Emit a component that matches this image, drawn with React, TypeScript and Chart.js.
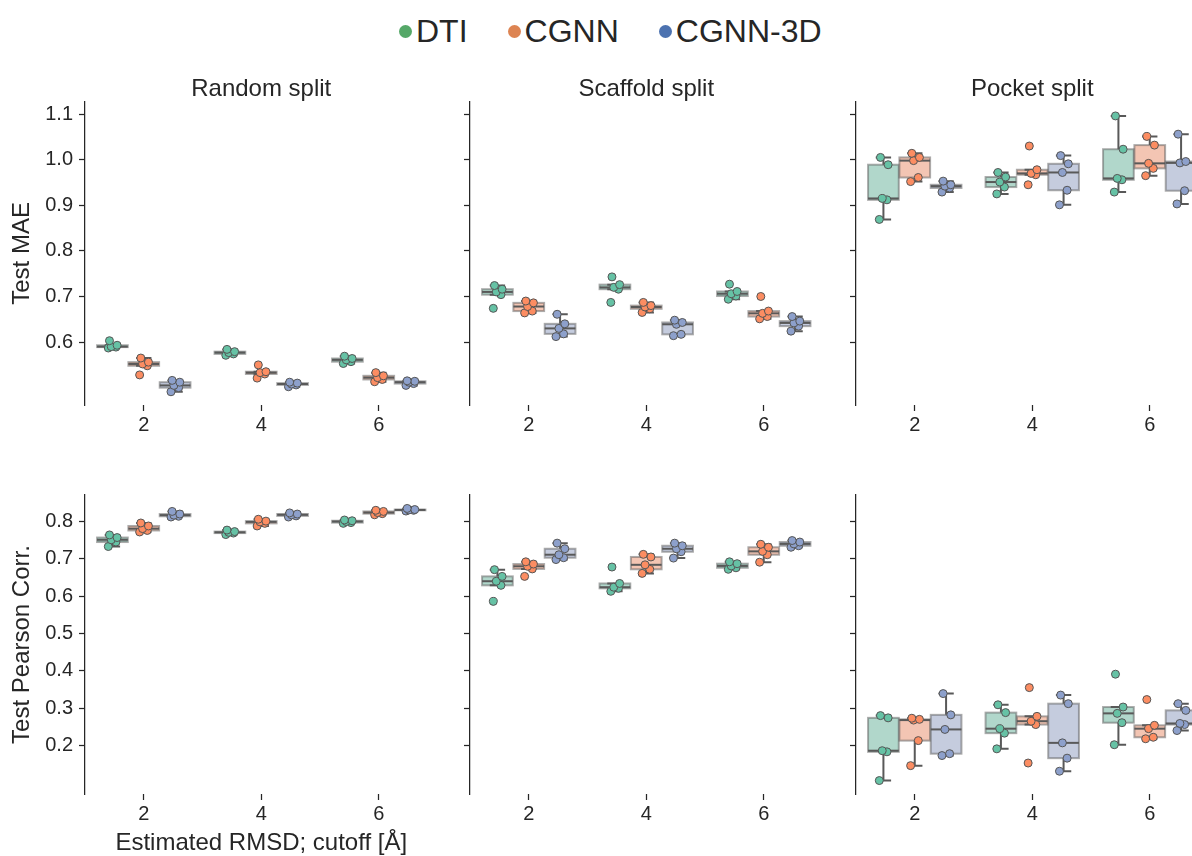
import React, { useEffect, useRef } from 'react';
import { Chart, registerables } from 'chart.js';

Chart.register(...registerables);

// ---------- categories / labels ----------
const CUTOFFS = [2, 4, 6];
const MODELS = ['DTI', 'CGNN', 'CGNN-3D'];
const SPLITS = ['Random split', 'Scaffold split', 'Pocket split'];
const METRICS = ['Test MAE', 'Test Pearson Corr.'];
const X_LABEL = 'Estimated RMSD; cutoff [Å]';
const MAE_TICKS = [0.6, 0.7, 0.8, 0.9, 1.0, 1.1];
const CORR_TICKS = [0.2, 0.3, 0.4, 0.5, 0.6, 0.7, 0.8];

// ---------- Test MAE (per cutoff 2, 4, 6; five runs each) ----------
const RANDOM_MAE_DTI = [[0.587, 0.589, 0.590, 0.593, 0.603], [0.571, 0.574, 0.577, 0.579, 0.584], [0.553, 0.557, 0.561, 0.564, 0.569]];
const RANDOM_MAE_CGNN = [[0.528, 0.548, 0.552, 0.556, 0.565], [0.521, 0.530, 0.533, 0.535, 0.550], [0.513, 0.518, 0.522, 0.526, 0.533]];
const RANDOM_MAE_CGNN3D = [[0.491, 0.500, 0.505, 0.512, 0.516], [0.502, 0.506, 0.508, 0.510, 0.512], [0.505, 0.509, 0.512, 0.514, 0.515]];

const SCAFFOLD_MAE_DTI = [[0.674, 0.704, 0.710, 0.716, 0.724], [0.687, 0.716, 0.720, 0.726, 0.743], [0.694, 0.701, 0.706, 0.711, 0.727]];
const SCAFFOLD_MAE_CGNN = [[0.664, 0.668, 0.678, 0.686, 0.690], [0.665, 0.673, 0.677, 0.680, 0.687], [0.651, 0.656, 0.663, 0.668, 0.700]];
const SCAFFOLD_MAE_CGNN3D = [[0.612, 0.618, 0.630, 0.640, 0.661], [0.614, 0.617, 0.639, 0.643, 0.648], [0.624, 0.635, 0.642, 0.646, 0.656]];

const POCKET_MAE_DTI = [[0.869, 0.912, 0.915, 0.989, 1.005], [0.925, 0.940, 0.951, 0.962, 0.972], [0.929, 0.956, 0.959, 1.023, 1.096]];
const POCKET_MAE_CGNN = [[0.952, 0.961, 0.998, 1.005, 1.014], [0.945, 0.967, 0.970, 0.978, 1.030], [0.965, 0.981, 0.992, 1.032, 1.051]];
const POCKET_MAE_CGNN3D = [[0.929, 0.938, 0.942, 0.945, 0.953], [0.901, 0.933, 0.972, 0.991, 1.009], [0.903, 0.932, 0.993, 0.996, 1.056]];

// ---------- Test Pearson Corr. ----------
const RANDOM_CORR_DTI = [[0.733, 0.745, 0.751, 0.757, 0.764], [0.765, 0.769, 0.771, 0.773, 0.777], [0.795, 0.797, 0.800, 0.802, 0.804]];
const RANDOM_CORR_CGNN = [[0.772, 0.776, 0.781, 0.788, 0.796], [0.788, 0.795, 0.799, 0.801, 0.806], [0.818, 0.821, 0.824, 0.827, 0.830]];
const RANDOM_CORR_CGNN3D = [[0.812, 0.814, 0.817, 0.820, 0.827], [0.812, 0.815, 0.818, 0.820, 0.823], [0.828, 0.830, 0.831, 0.832, 0.835]];

const SCAFFOLD_CORR_DTI = [[0.586, 0.629, 0.640, 0.653, 0.671], [0.613, 0.621, 0.624, 0.634, 0.678], [0.672, 0.676, 0.681, 0.687, 0.692]];
const SCAFFOLD_CORR_CGNN = [[0.653, 0.673, 0.680, 0.686, 0.692], [0.661, 0.672, 0.684, 0.705, 0.712], [0.691, 0.711, 0.720, 0.731, 0.739]];
const SCAFFOLD_CORR_CGNN3D = [[0.698, 0.703, 0.711, 0.727, 0.742], [0.702, 0.719, 0.727, 0.735, 0.742], [0.731, 0.735, 0.740, 0.745, 0.749]];

const POCKET_CORR_DTI = [[0.106, 0.183, 0.186, 0.274, 0.280], [0.191, 0.233, 0.245, 0.288, 0.309], [0.202, 0.261, 0.286, 0.303, 0.391]];
const POCKET_CORR_CGNN = [[0.146, 0.213, 0.268, 0.270, 0.273], [0.153, 0.256, 0.265, 0.278, 0.355], [0.218, 0.222, 0.245, 0.254, 0.323]];
const POCKET_CORR_CGNN3D = [[0.173, 0.178, 0.243, 0.282, 0.339], [0.131, 0.166, 0.207, 0.312, 0.335], [0.240, 0.256, 0.259, 0.294, 0.312]];

const PANEL_DATA = [
  [
    [RANDOM_MAE_DTI, RANDOM_MAE_CGNN, RANDOM_MAE_CGNN3D],
    [SCAFFOLD_MAE_DTI, SCAFFOLD_MAE_CGNN, SCAFFOLD_MAE_CGNN3D],
    [POCKET_MAE_DTI, POCKET_MAE_CGNN, POCKET_MAE_CGNN3D],
  ],
  [
    [RANDOM_CORR_DTI, RANDOM_CORR_CGNN, RANDOM_CORR_CGNN3D],
    [SCAFFOLD_CORR_DTI, SCAFFOLD_CORR_CGNN, SCAFFOLD_CORR_CGNN3D],
    [POCKET_CORR_DTI, POCKET_CORR_CGNN, POCKET_CORR_CGNN3D],
  ],
];
const Y_RANGES = [[0.462, 1.127], [0.07, 0.871]];
const Y_TICKS = [MAE_TICKS, CORR_TICKS];

// ---------- styles ----------
const FONT = '"Liberation Sans", Arial, Helvetica, sans-serif';
const TEXT = '#262626';
const POINT_COLORS = ['#66c2a5', '#fc8d62', '#8da0cb'];
const BOX_COLORS = ['rgba(113,182,161,0.55)', 'rgba(233,150,117,0.55)', 'rgba(149,163,195,0.55)'];
const LEGEND_COLORS = ['#55a868', '#dd8452', '#4c72b0'];
const LINE_COLOR = '#595959';
const BOX_EDGE = 'rgba(89,89,89,0.5)';
const HUE_OFFSETS = [-0.5333, 0, 0.5333];
const BOX_WIDTH = 0.5227;
const JITTER = [-0.07, 0.06, -0.02, 0.08, -0.05];

Chart.defaults.font.family = FONT;
Chart.defaults.color = TEXT;

function quantile(sorted: number[], p: number) {
  const pos = p * (sorted.length - 1);
  const lo = Math.floor(pos);
  const hi = Math.ceil(pos);
  return sorted[lo] + (sorted[hi] - sorted[lo]) * (pos - lo);
}

function boxStats(values: number[]) {
  const s = [...values].sort((a, b) => a - b);
  const q1 = quantile(s, 0.25);
  const med = quantile(s, 0.5);
  const q3 = quantile(s, 0.75);
  const iqr = q3 - q1;
  const inside = s.filter((v) => v >= q1 - 1.5 * iqr && v <= q3 + 1.5 * iqr);
  return { q1, med, q3, lo: Math.min(...inside), hi: Math.max(...inside) };
}

const boxPlugin = {
  id: 'boxes',
  beforeDatasetsDraw(chart: any) {
    const { ctx } = chart;
    const x = chart.scales.x;
    const y = chart.scales.y;
    ctx.save();
    chart.data.datasets.forEach((ds: any, di: number) => {
      (ds.groups as number[][]).forEach((vals, gi) => {
        const c = CUTOFFS[gi] + HUE_OFFSETS[di];
        const st = boxStats(vals);
        const xl = x.getPixelForValue(c - BOX_WIDTH / 2);
        const xr = x.getPixelForValue(c + BOX_WIDTH / 2);
        const xc = x.getPixelForValue(c);
        const capL = x.getPixelForValue(c - BOX_WIDTH / 4);
        const capR = x.getPixelForValue(c + BOX_WIDTH / 4);
        const yq1 = y.getPixelForValue(st.q1);
        const yq3 = y.getPixelForValue(st.q3);
        const ymed = y.getPixelForValue(st.med);
        const ylo = y.getPixelForValue(st.lo);
        const yhi = y.getPixelForValue(st.hi);
        // box
        ctx.fillStyle = BOX_COLORS[di];
        ctx.fillRect(xl, yq3, xr - xl, yq1 - yq3);
        ctx.strokeStyle = BOX_EDGE;
        ctx.lineWidth = 2;
        ctx.strokeRect(xl, yq3, xr - xl, yq1 - yq3);
        // whiskers
        ctx.strokeStyle = LINE_COLOR;
        ctx.lineWidth = 2;
        ctx.beginPath();
        ctx.moveTo(xc, yq1);
        ctx.lineTo(xc, ylo);
        ctx.moveTo(xc, yq3);
        ctx.lineTo(xc, yhi);
        ctx.moveTo(capL, ylo);
        ctx.lineTo(capR, ylo);
        ctx.moveTo(capL, yhi);
        ctx.lineTo(capR, yhi);
        ctx.stroke();
        // median
        ctx.beginPath();
        ctx.moveTo(xl, ymed);
        ctx.lineTo(xr, ymed);
        ctx.stroke();
      });
    });
    ctx.restore();
  },
};

// ---------- layout ----------
const COL_LEFT = [0, 458, 844];
const COL_AXIS_W = [85, 12, 12];
const COL_W = [446, 373, 373];
const ROW_TOP = [73, 475];
const ROW_H = [372, 381];
const ROW_PAD_TOP = [0, 20];
const ROW_XAXIS_H = [40, 62];

function Panel({ row, col }: { row: number; col: number }) {
  const ref = useRef<HTMLCanvasElement | null>(null);
  const w = COL_W[col];
  const h = ROW_H[row];
  useEffect(() => {
    const groupsByModel = PANEL_DATA[row][col];
    const datasets = MODELS.map((m, di) => ({
      label: m,
      groups: groupsByModel[di],
      data: groupsByModel[di].flatMap((vals, gi) =>
        vals.map((v, k) => ({ x: CUTOFFS[gi] + HUE_OFFSETS[di] + JITTER[k], y: v }))
      ),
      backgroundColor: POINT_COLORS[di],
      borderColor: '#555555',
      pointRadius: 4,
      pointBorderWidth: 1,
      pointHoverRadius: 4,
      showLine: false,
      clip: false,
    }));
    const chart = new Chart(ref.current as HTMLCanvasElement, {
      type: 'scatter',
      data: { datasets } as any,
      plugins: [boxPlugin],
      options: {
        animation: false,
        responsive: false,
        devicePixelRatio: 1,
        events: [],
        layout: {
          autoPadding: false,
          padding: { top: ROW_PAD_TOP[row], right: 8.5, bottom: 0, left: 0 },
        },
        plugins: {
          legend: { display: false },
          tooltip: { enabled: false },
          title: {
            display: row === 0,
            text: SPLITS[col],
            font: { size: 24, weight: 'normal', family: FONT },
            color: TEXT,
            padding: { top: 2, bottom: -2 },
            fullSize: false,
          },
        },
        scales: {
          x: {
            type: 'linear',
            min: 1,
            max: 7,
            afterBuildTicks: (s: any) => {
              s.ticks = CUTOFFS.map((v) => ({ value: v }));
            },
            afterFit: (s: any) => {
              s.height = ROW_XAXIS_H[row];
              s.paddingLeft = 0;
              s.paddingRight = 0;
            },
            ticks: {
              font: { size: 20, family: FONT },
              color: TEXT,
              padding: 2,
              maxRotation: 0,
              autoSkip: false,
              callback: (v: any) => String(v),
            },
            grid: {
              drawOnChartArea: false,
              drawTicks: true,
              tickLength: 6,
              tickWidth: 1.25,
              tickColor: TEXT,
              color: TEXT,
            },
            border: { display: false },
            title: {
              display: row === 1 && col === 0,
              text: X_LABEL,
              font: { size: 24, family: FONT },
              color: TEXT,
              padding: { top: 0, bottom: -2 },
            },
          },
          y: {
            type: 'linear',
            min: Y_RANGES[row][0],
            max: Y_RANGES[row][1],
            afterBuildTicks: (s: any) => {
              s.ticks = Y_TICKS[row].map((v) => ({ value: v }));
            },
            afterFit: (s: any) => {
              s.width = COL_AXIS_W[col];
              s.paddingTop = 0;
              s.paddingBottom = 0;
            },
            ticks: {
              display: col === 0,
              font: { size: 20, family: FONT },
              color: TEXT,
              padding: 6,
              callback: (v: any) => Number(v).toFixed(1),
            },
            grid: {
              drawOnChartArea: false,
              drawTicks: true,
              tickLength: 6,
              tickWidth: 1.25,
              tickColor: TEXT,
              color: TEXT,
            },
            border: { display: true, color: TEXT, width: 1.25 },
            title: {
              display: col === 0,
              text: METRICS[row],
              font: { size: 24, family: FONT },
              color: TEXT,
              padding: { top: 8, bottom: 0 },
            },
          },
        },
      } as any,
    });
    return () => chart.destroy();
  }, [row, col]);
  return (
    <canvas
      ref={ref}
      width={w}
      height={h}
      style={{ position: 'absolute', left: COL_LEFT[col], top: ROW_TOP[row], width: w, height: h }}
    />
  );
}

function Legend() {
  return (
    <div
      style={{
        position: 'absolute',
        left: 399,
        top: 12,
        height: 38,
        display: 'flex',
        alignItems: 'center',
        fontFamily: FONT,
        fontSize: 32,
        color: TEXT,
        whiteSpace: 'nowrap',
      }}
    >
      {MODELS.map((m, i) => (
        <div key={m} style={{ display: 'flex', alignItems: 'center', marginRight: i < MODELS.length - 1 ? 40 : 0 }}>
          <span
            style={{
              display: 'inline-block',
              width: 13,
              height: 13,
              borderRadius: '50%',
              background: LEGEND_COLORS[i],
              marginRight: 4,
            }}
          />
          <span style={{ lineHeight: '38px' }}>{m}</span>
        </div>
      ))}
    </div>
  );
}

export default function App() {
  return (
    <div
      style={{
        position: 'fixed',
        left: 0,
        top: 0,
        width: 1192,
        height: 856,
        overflow: 'hidden',
        background: '#ffffff',
      }}
    >
      <Legend />
      {[0, 1].map((r) => [0, 1, 2].map((c) => <Panel key={`${r}-${c}`} row={r} col={c} />))}
    </div>
  );
}
